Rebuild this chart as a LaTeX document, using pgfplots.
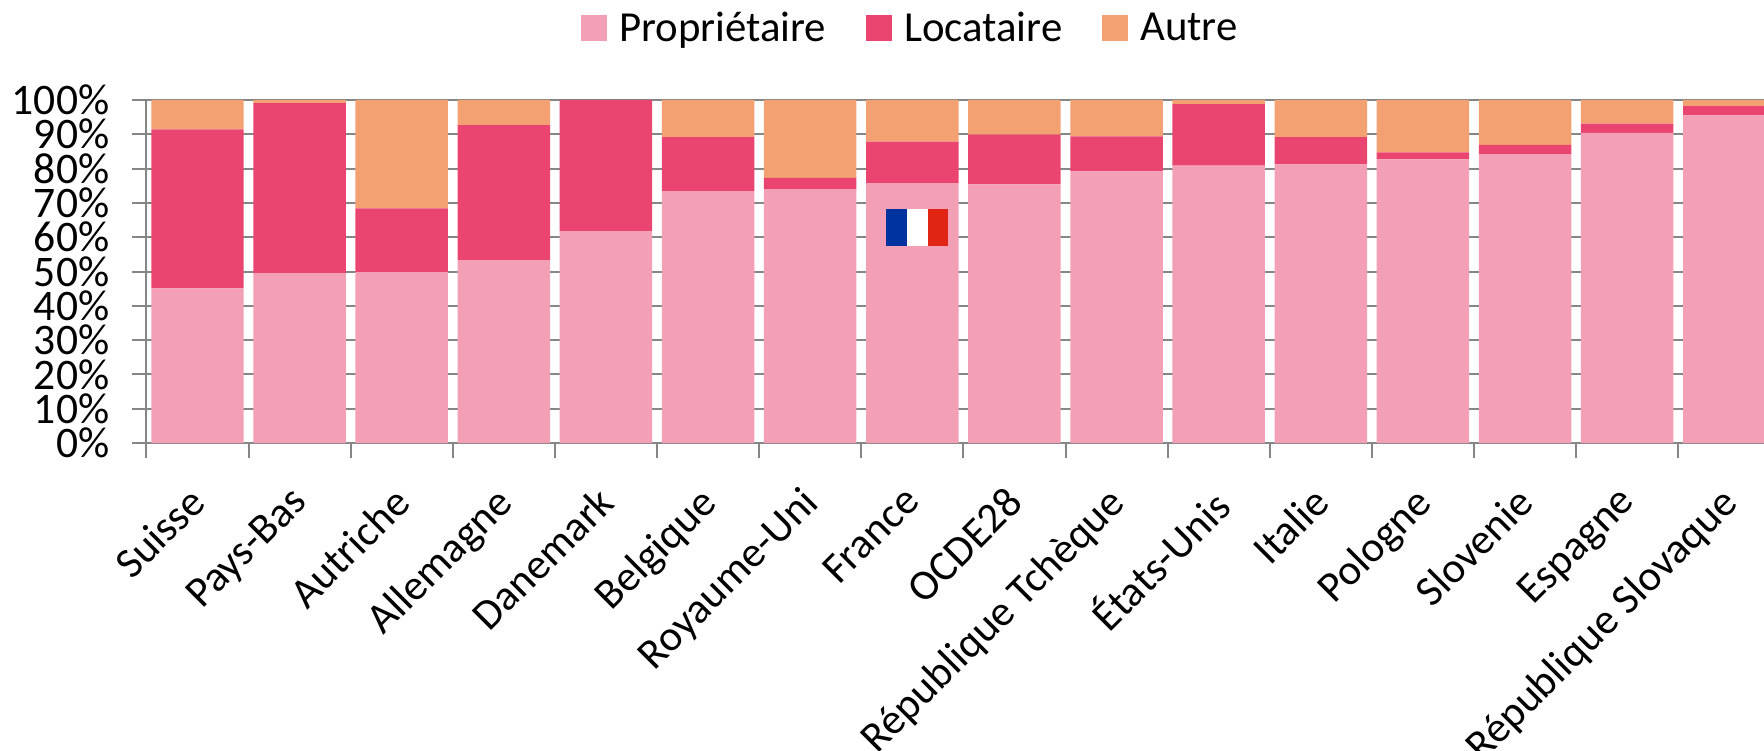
\documentclass[border=0pt]{standalone}
\usepackage{pgfplots}
\usepackage{pgfplotstable}
\usepackage{fontspec}
\setmainfont{Carlito}
\pgfplotsset{compat=1.18}
\definecolor{prop}{HTML}{F3A0B7}
\definecolor{loc}{HTML}{E94570}
\definecolor{aut}{HTML}{F3A072}
\definecolor{axg}{HTML}{868686}
\definecolor{flagb}{HTML}{0033A0}
\definecolor{flagr}{HTML}{E02514}
\pgfplotstableread{
x prop loc aut
0 45.1 46.3 8.6
1 49.5 49.6 0.9
2 49.8 18.6 31.6
3 53.3 39.4 7.3
4 61.8 38.2 0.0
5 73.4 15.8 10.8
6 74.0 3.3 22.7
7 75.8 12.1 12.1
8 75.4 14.5 10.1
9 79.2 10.2 10.6
10 80.9 17.9 1.2
11 81.2 8.0 10.8
12 82.7 2.0 15.3
13 84.2 2.7 13.1
14 90.4 2.7 6.9
15 95.5 2.7 1.8
}\datatable
\pgfplotsset{sqleg/.style={legend image code/.code={\fill[##1] (0pt,-6.5pt) rectangle (13pt,6.5pt);}}}
\begin{document}
\begin{tikzpicture}[x=1pt,y=1pt]
\path[use as bounding box] (0,0) rectangle (882,375);
\clip (0,0) rectangle (882,375);
\begin{axis}[
  at={(73.2pt,153.5pt)}, anchor=south west,
  scale only axis, width=808.8pt, height=171.5pt,
  ybar stacked, bar width=0.905,
  xmin=-0.5, xmax=15.34, ymin=0, ymax=100,
  axis x line*=bottom, axis y line*=left,
  axis line style={-, draw=axg, line width=1pt},
  clip=true,
  ytick={0,10,...,100},
  yticklabel={\pgfmathprintnumber{\tick}\%},
  /pgf/number format/assume math mode=true,
  ymajorgrids, major grid style={draw=axg, line width=1pt},
  xtick={0,...,15},
  minor xtick={-0.5,0.5,...,14.5},
  xticklabels={Suisse,Pays-Bas,Autriche,Allemagne,Danemark,Belgique,Royaume-Uni,France,OCDE28,République Tchèque,États-Unis,Italie,Pologne,Slovenie,Espagne,République Slovaque},
  tick align=outside,
  major tick length=7pt, minor tick length=7.5pt,
  x tick style={draw=none},
  minor x tick style={draw=axg, line width=1pt},
  y tick style={draw=axg, line width=1pt},
  tick label style={font=\fontsize{21.8}{23}\selectfont},
  yticklabel style={xshift=-8pt},
  x tick label style={font=\fontsize{21.4}{23}\selectfont, rotate=45, anchor=north east, inner sep=0pt, xshift=-13.2pt, yshift=-5.7pt},
  legend style={at={(0.4754,1.21)}, anchor=center, draw=none, fill=none, legend columns=3,
    font=\fontsize{21.4}{23}\selectfont, nodes={inner xsep=6pt},
    /tikz/every even column/.append style={column sep=14pt}},
  legend cell align=left,
  after end axis/.code={
    \fill[flagb] (axis cs:6.743,68.3) rectangle (axis cs:6.943,57.5);
    \fill[white] (axis cs:6.943,68.3) rectangle (axis cs:7.153,57.5);
    \fill[flagr] (axis cs:7.153,68.3) rectangle (axis cs:7.353,57.5);
  },
]
\addplot[fill=prop, draw=none, sqleg] table[x=x,y=prop] {\datatable};
\addplot[fill=loc, draw=none, sqleg] table[x=x,y=loc] {\datatable};
\addplot[fill=aut, draw=none, sqleg] table[x=x,y=aut] {\datatable};
\legend{Propriétaire,Locataire,Autre}
\end{axis}
\end{tikzpicture}
\end{document}
